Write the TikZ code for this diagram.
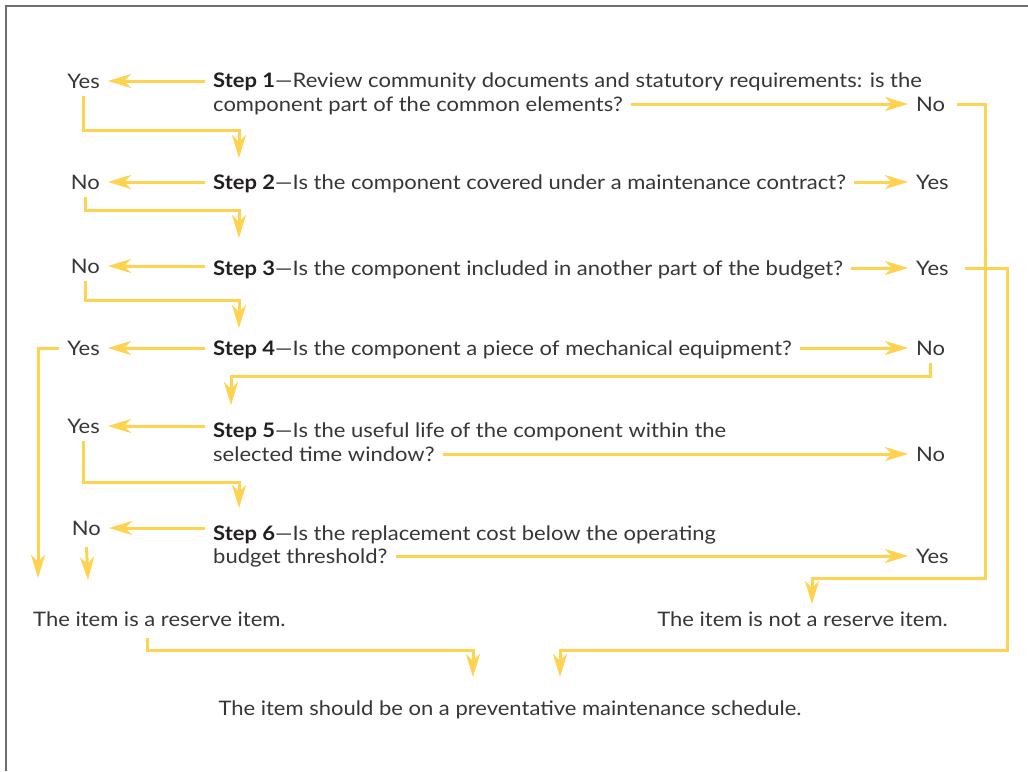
\documentclass[tikz,border=0pt]{standalone}
\usepackage{fontspec}
\setmainfont{Lato}[FakeStretch=1.1]
\usetikzlibrary{arrows.meta}
\definecolor{flowyellow}{RGB}{255,210,80}
\definecolor{inktext}{RGB}{55,53,53}
\definecolor{inkbold}{RGB}{35,31,32}
\definecolor{framegray}{RGB}{110,110,110}
\newcommand{\stp}[1]{{\bfseries\color{inkbold}Step #1}}
\begin{document}
\begin{tikzpicture}[x=1pt,y=-1pt,
    every node/.style={font=\fontsize{20}{25}\selectfont,text=inktext,inner sep=8pt,text height=14pt,text depth=0pt},
    stepline/.style={anchor=west},
    answerleft/.style={anchor=east},
    answerright/.style={anchor=west},
    flow/.style={draw=flowyellow,line width=3pt,-{Stealth[length=23pt,width=14pt,inset=7pt]}},
    frameline/.style={draw=framegray,line width=2.4pt}]
    \useasboundingbox (0,0) rectangle (1028,771);
    \draw[frameline] (6,771) -- (6,6) -- (1028,6);
    % question lines
    \node[stepline] (s1) at (205,80) {\stp{1}---Review community documents and statutory requirements: is the};
    \node[stepline] (s1b) at (205,104) {component part of the common elements?};
    \node[stepline] (s2) at (205,182) {\stp{2}---Is the component covered under a maintenance contract?};
    \node[stepline] (s3) at (205,268) {\stp{3}---Is the component included in another part of the budget?};
    \node[stepline] (s4) at (205,348) {\stp{4}---Is the component a piece of mechanical equipment?};
    \node[stepline] (s5) at (205,430) {\stp{5}---Is the useful life of the component within the};
    \node[stepline] (s5b) at (205,454) {selected time window?};
    \node[stepline] (s6) at (205,533) {\stp{6}---Is the replacement cost below the operating};
    \node[stepline] (s6b) at (205,556) {budget threshold?};
    % answers
    \node[answerleft] (l1) at (108,81) {Yes};
    \node[answerleft] (l2) at (108,182) {No};
    \node[answerleft] (l3) at (108,266) {No};
    \node[answerleft] (l4) at (108,348) {Yes};
    \node[answerleft] (l5) at (108,426) {Yes};
    \node[answerleft] (l6) at (109,528) {No};
    \node[answerright] (r1) at (908,104) {No};
    \node[answerright] (r2) at (908,182) {Yes};
    \node[answerright] (r3) at (908,268) {Yes};
    \node[answerright] (r4) at (908,348) {No};
    \node[answerright] (r5) at (908,454) {No};
    \node[answerright] (r6) at (908,556) {Yes};
    % outcomes
    \node[anchor=west] (res) at (25,619) {The item is a reserve item.};
    \node[anchor=east] (notres) at (956,619) {The item is not a reserve item.};
    \node (pm) at (510,708) {The item should be on a preventative maintenance schedule.};
    % arrow ends and bends
    \coordinate (t2) at (239,158);
    \coordinate (t3) at (239,238);
    \coordinate (t4) at (239,328);
    \coordinate (t5) at (231,405);
    \coordinate (t6) at (239,508);
    \coordinate (tres1) at (38,578);
    \coordinate (tres2) at (88,580);
    \coordinate (tnot) at (812,604);
    \coordinate (tpm1) at (473,677);
    \coordinate (tpm2) at (560,677);
    \coordinate (k1) at (985,578);
    \coordinate (k3) at (1007,650);
    % answer arrows
    \draw[flow] (s1.west |- l1.east) -- (l1.east);
    \draw[flow] (s2.west |- l2.east) -- (l2.east);
    \draw[flow] (s3.west |- l3.east) -- (l3.east);
    \draw[flow] (s4.west |- l4.east) -- (l4.east);
    \draw[flow] (s5.west |- l5.east) -- (l5.east);
    \draw[flow] (s6.west |- l6.east) -- (l6.east);
    \draw[flow] (s1b.east) -- (r1.west);
    \draw[flow] (s2.east) -- (r2.west);
    \draw[flow] (s3.east) -- (r3.west);
    \draw[flow] (s4.east) -- (r4.west);
    \draw[flow] (s5b.east) -- (r5.west);
    \draw[flow] (s6b.east) -- (r6.west);
    % next step
    \draw[flow] (l1.south) -- ++(0,34) -| (t2);
    \draw[flow] (l2.south) -- ++(0,13) -| (t3);
    \draw[flow] (l3.south) -- ++(0,19) -| (t4);
    \draw[flow] (r4.south) -- ++(0,13) -| (t5);
    \draw[flow] (l5.south) -- ++(0,41) -| (t6);
    % outcomes
    \draw[flow] (l4.west) -| (tres1);
    \draw[flow,shorten <=4pt] (l6.south) -- (tres2);
    \draw[flow,shorten <=4pt] (r1.east) -| (k1) -| (tnot);
    \draw[flow,shorten <=8pt] (r3.east) -| (k3) -| (tpm2);
    \draw[flow,shorten <=4pt] ([xshift=-12pt]res.south) -- ++(0,16) -| (tpm1);
\end{tikzpicture}
\end{document}
